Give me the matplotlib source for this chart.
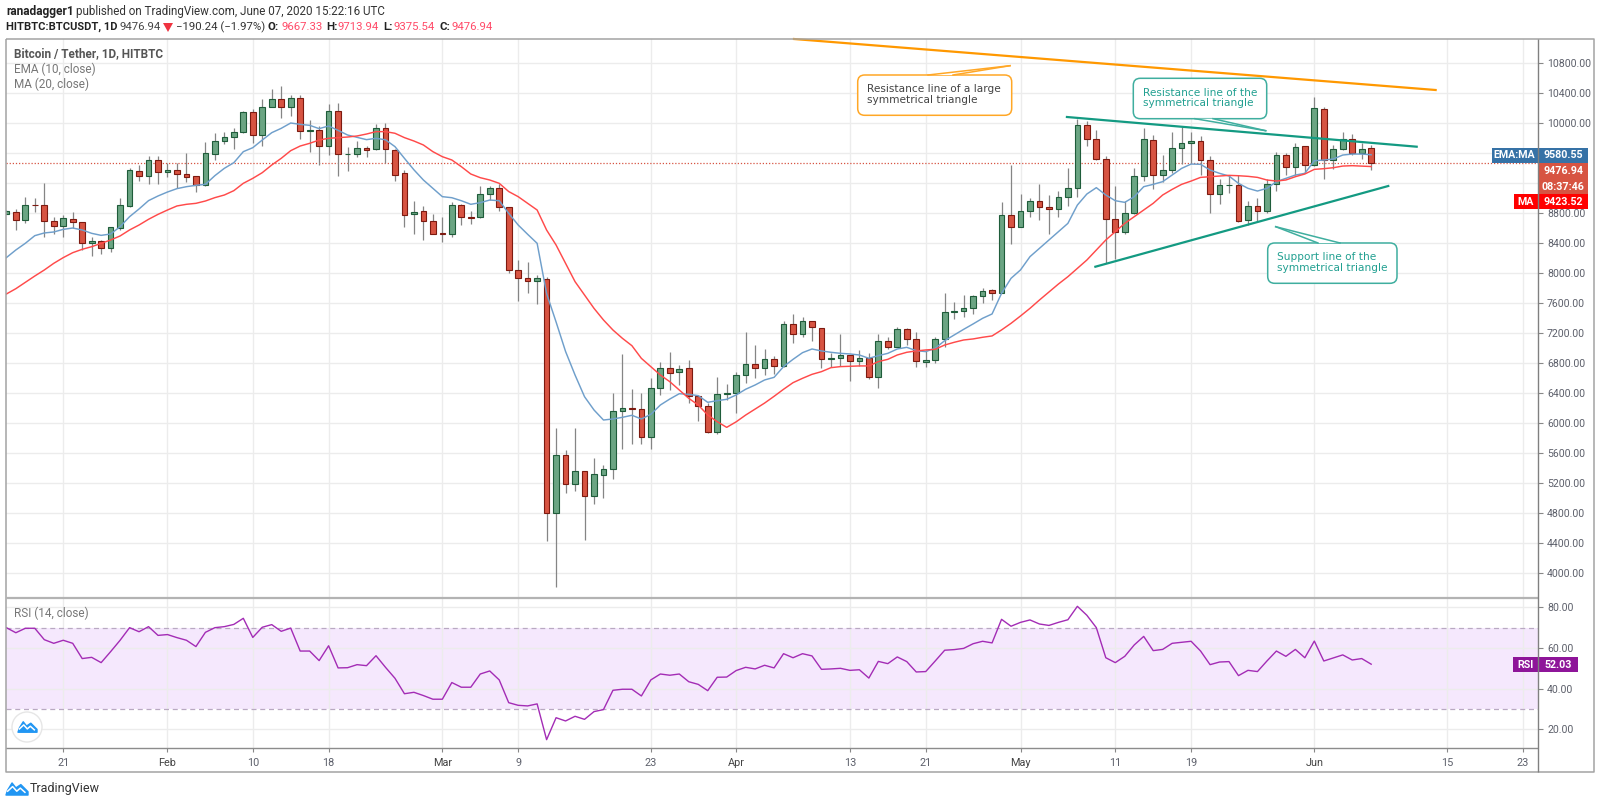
import matplotlib
matplotlib.use("Agg")
import matplotlib.pyplot as plt
from matplotlib.patches import FancyBboxPatch, Polygon, Circle, Rectangle

W, H = 1600, 805
days = list(range(-6, 139))
opens = [8795,8818,8715,8911,8911,8698,8635,8729,8684,8409,
8435,8338,8609,8902,9364,9302,9506,9351,9373,9324,
9293,9178,9591,9769,9813,9884,10151,9840,10222,10320,
10222,10342,9902,9911,9697,10160,9586,9586,9671,9653,
9933,9644,9337,8791,8826,8693,8533,8528,8906,8755,
8746,9053,9133,8880,8040,7933,7893,7929,4800,5578,
5191,5364,5036,5307,5391,6169,6200,6186,5822,6466,
6733,6680,6733,6364,6235,5880,6395,6400,6640,6787,
6738,6854,6765,7320,7191,7360,7276,6858,6867,6907,
6836,6867,6618,7093,7022,7253,7120,6822,6849,7120,
7480,7502,7538,7693,7773,7742,8778,8613,8826,8968,
8888,8862,9013,9142,9973,9786,9528,8719,8546,8799,
9302,9777,9310,9373,9670,9733,9764,9506,9061,9173,
9173,8715,8897,8835,9195,9577,9422,9693,9444,10186,
9515,9662,9786,9608,9667.33]
closes = [8831,8715,8911,8906,8702,8631,8733,8680,8409,8431,
8338,8613,8911,9377,9302,9506,9346,9373,9324,9289,
9178,9600,9769,9813,9889,10151,9840,10222,10320,10222,
10342,9902,9911,9697,10160,9591,9591,9671,9649,9933,
9653,9311,8777,8813,8693,8528,8528,8906,8755,8742,
9053,9133,8888,8040,7933,7893,7933,4800,5578,5191,
5364,5036,5320,5387,6164,6200,6186,5822,6466,6733,
6666,6724,6364,6235,5880,6391,6400,6640,6787,6738,
6854,6760,7320,7191,7360,7285,6858,6867,6907,6836,
6867,6618,7093,7022,7253,7120,6836,6845,7120,7480,
7502,7538,7693,7760,7742,8778,8622,8827,8968,8888,
8862,9017,9137,9973,9786,9524,8719,8546,8799,9302,
9790,9315,9373,9670,9733,9768,9506,9061,9173,9177,
8702,8897,8835,9195,9577,9422,9684,9444,10199,9515,
9662,9786,9608,9662,9476.94]
highs = [8840,8853,9017,9000,9200,8746,8778,8813,8689,8489,
8444,8613,9000,9400,9444,9564,9564,9466,9466,9609,
9302,9755,9866,9889,9933,10164,10186,10320,10453,10497,
10377,10377,10044,9964,10257,10275,9689,9764,9702,9986,
10000,9653,9377,8968,8897,8791,8755,8955,8924,8835,
9164,9164,9191,8880,8177,8151,7977,7955,5942,5644,
5942,5364,5533,5440,6400,6924,6453,6400,6600,6822,
6955,6778,6844,6378,6266,6613,6524,6680,7218,7040,
6991,6893,7365,7458,7422,7360,7276,6942,7187,6907,
6978,6933,7191,7147,7289,7267,7213,6978,7156,7742,
7613,7707,7707,7804,7796,8951,9444,9058,9008,9190,
9044,9102,9399,10053,10030,9910,9564,9164,8968,9399,
9933,9839,9581,9884,9946,9888,9830,9564,9261,9310,
9310,8968,9008,9261,9617,9608,9733,9693,10355,10213,
9710,9879,9853,9741,9713.94]
lows = [8790,8578,8666,8822,8489,8524,8489,8600,8311,8235,
8258,8280,8578,8889,9235,9191,9191,9289,9133,9222,
9080,9164,9511,9724,9653,9875,9733,9697,10213,10071,
10097,9786,9622,9444,9577,9297,9369,9546,9546,9644,
9466,9235,8622,8524,8440,8524,8413,8488,8640,8653,
8742,8977,8835,7999,7626,7733,7595,4436,3822,5066,
5102,4444,4924,5009,5258,5662,5720,5720,5662,6378,
6444,6511,6275,6035,5866,5853,6311,6142,6542,6609,
6640,6658,6756,7067,7156,7102,6733,6756,6769,6569,
6769,6596,6471,6987,7013,7044,6747,6756,6800,7022,
7391,7422,7458,7600,7644,7733,8391,8613,8746,8711,
8524,8746,8897,9022,9702,9510,8133,8186,8524,8790,
9235,9128,9222,9333,9457,9466,9310,8808,8924,9075,
8679,8644,8688,8808,9102,9310,9310,9333,9430,9262,
9386,9644,9577,9524,9375.54]
ema10 = [8209,8311,8400,8502,8538,8551,8586,8604,8578,8533,
8506,8524,8622,8755,8858,8969,9031,9084,9129,9155,
9173,9186,9302,9400,9475,9622,9675,9777,9875,9933,
10004,9986,9973,9929,9964,9906,9844,9813,9782,9800,
9780,9689,9533,9380,9244,9133,9022,9008,8968,8920,
8942,8977,8968,8800,8644,8520,8400,7730,7351,6958,
6644,6355,6178,6044,6058,6080,6107,6058,6120,6244,
6324,6395,6386,6369,6280,6302,6320,6378,6454,6511,
6578,6613,6756,6853,6942,6991,6965,6947,6933,6925,
6911,6867,6902,6933,6991,7013,6969,6956,7000,7102,
7178,7253,7325,7400,7458,7733,7933,8045,8222,8333,
8444,8555,8666,8910,9057,9142,9044,8968,8946,9021,
9155,9186,9222,9310,9399,9457,9453,9377,9333,9297,
9199,9133,9097,9133,9222,9266,9310,9333,9501,9510,
9524,9577,9590,9590,9580.55]
ma20 = [7724,7795,7880,7964,8044,8133,8209,8275,8320,8355,
8400,8444,8498,8578,8644,8720,8786,8844,8898,8920,
8933,8964,9009,9044,9102,9200,9266,9342,9444,9533,
9635,9697,9733,9777,9800,9809,9817,9831,9857,9889,
9889,9867,9809,9764,9711,9622,9555,9511,9422,9324,
9275,9244,9200,9090,9022,8933,8844,8577,8377,8133,
7889,7711,7533,7378,7244,7133,7035,6866,6755,6644,
6555,6444,6333,6244,6111,6022,5946,6020,6110,6190,
6270,6360,6454,6542,6600,6653,6689,6742,6756,6760,
6765,6765,6823,6853,6911,6947,6965,6978,6987,7044,
7080,7111,7125,7147,7165,7245,7333,7431,7533,7644,
7750,7857,7955,8066,8177,8310,8444,8555,8666,8755,
8844,8933,9044,9119,9186,9230,9279,9288,9297,9306,
9301,9293,9279,9244,9230,9244,9288,9324,9386,9395,
9408,9430,9435,9430,9423.52]
rsi14 = [70,67.5,69.7,69.7,64.1,62.3,63.8,62.3,54.8,55.4,
52.8,58.2,63.8,70,68,70.5,66.2,66.6,65.1,63.8,
60.7,67.7,70,70.5,71.6,74.6,65.2,70.2,71.5,68.2,
69.8,58.5,58.5,53.8,61.1,50.2,50.3,51.8,51.3,56.2,
50.5,45.1,37.5,38.2,36.6,34.8,34.8,43,40.7,40.7,
47.2,48.7,44.3,33.1,31.8,31.5,32.5,14.9,25.7,24.1,
26.4,24.9,28.7,29.7,39.2,39.7,39.7,36.4,44.3,47.2,
46.6,47.2,43.4,42.1,39,45.6,45.7,48.9,50.5,49.7,
51.5,50.2,57.2,55.2,57.2,56.1,49.5,49.7,50,49,
49.3,45.2,53.4,52.3,55.6,53.3,48.2,48.4,53.6,58.9,
59.2,59.8,62.1,63.3,62.5,74.1,70.7,72.6,73.8,71.8,
71.1,72.6,73.9,80.5,76.1,70,55.2,52.8,55.9,61.5,
65.7,58.7,59.3,62.3,62.8,63.3,58.5,51.8,53.1,53.3,
46.4,49,48.4,53.6,58.5,55.9,59.3,55.2,63.4,53.6,
55.1,56.6,54.1,54.8,52.03]

price_ticks = [4000,4400,4800,5200,5600,6000,6400,6800,7200,7600,8000,8400,8800,9200,9600,10000,10400,10800]
hidden_price_labels = [9200, 9600]
rsi_ticks = [20,40,60,80]
tick_days = [0,11,20,28,40,48,62,71,83,91,101,111,119,132,146,154]
tick_labels = ['21','Feb','10','18','Mar','9','23','Apr','13','21','May','11','19','Jun','15','23']

orange_x, orange_y = [77.1,144.8], [11124,10444]
res_x, res_y = [105.9,142.8], [10084,9688]
sup_x, sup_y = [108.9,139.8], [8088,9164]
last_close = 9476.94

UI = 'Roboto'
GREY = '#5d606b'
GRID = '#ececec'
GREEN, GREEN_E = '#6ba583', '#1f5c3a'
RED, RED_E = '#d75442', '#7d1a10'

fig = plt.figure(figsize=(W/100, H/100), dpi=100, facecolor='white')
def box(l, t, r, b):
    return [l/W, 1-b/H, (r-l)/W, (b-t)/H]

L, AX, R = 5.7, 1538, 1594
ax = fig.add_axes(box(L, 39, AX, 597.7))
rx = fig.add_axes(box(L, 599, AX, 748))
xlim = (-6.07, 155.6)
for a in (ax, rx):
    a.set_xlim(*xlim)
    a.set_axisbelow(True)
    a.grid(True, color=GRID, lw=1.0)
    a.yaxis.tick_right()
    a.set_xticks(tick_days)
    for s in a.spines.values():
        s.set_visible(False)
    a.tick_params(axis='y', length=3.5, color='#888888', labelcolor=GREY, labelsize=7.6, pad=3)
ax.set_ylim(3675, 11124)
ax.set_yticks(price_ticks)
ax.set_yticklabels(['' if v in hidden_price_labels else f'{v:.2f}' for v in price_ticks], family=UI)
ax.tick_params(axis='x', length=0, labelbottom=False)
rx.set_ylim(10.8, 84.1)
rx.set_yticks(rsi_ticks)
rx.set_yticklabels([f'{v:.2f}' for v in rsi_ticks], family=UI)
rx.set_xticklabels(tick_labels, family=UI)
rx.tick_params(axis='x', length=3, color='#888888', labelcolor=GREY, labelsize=7.8, pad=4)
for lab, t_ in zip(rx.get_xticklabels(), tick_labels):
    if not t_.isdigit():
        lab.set_color('#444444')

# candles
up = [c >= o for o, c in zip(opens, closes)]
ax.vlines(days, lows, highs, color='#858585', lw=0.9, zorder=2)
ax.bar(days, [abs(c-o) for o, c in zip(opens, closes)], bottom=[min(o, c) for o, c in zip(opens, closes)],
       width=0.6, color=[GREEN if u else RED for u in up],
       edgecolor=[GREEN_E if u else RED_E for u in up], linewidth=0.8, zorder=3)
ax.plot(days, ema10, color='#6f9fcb', lw=1.05, zorder=4)
ax.plot(days, ma20, color='#ff4a4a', lw=1.05, zorder=4)
ax.axhline(last_close, color='#d75442', lw=0.9, ls=(0, (1, 1.5)), zorder=1.5)
ax.plot(orange_x, orange_y, color='#ff9800', lw=1.6, zorder=5, clip_on=False)
ax.plot(res_x, res_y, color='#139a82', lw=1.6, zorder=5)
ax.plot(sup_x, sup_y, color='#139a82', lw=1.6, zorder=5)

# RSI
rx.axhspan(30, 70, color='#f5e8fd', lw=0, zorder=0.2)
rx.axhline(70, color='#b9a9c2', lw=0.9, ls=(0, (4, 3)), zorder=1.5)
rx.axhline(30, color='#b9a9c2', lw=0.9, ls=(0, (4, 3)), zorder=1.5)
rx.plot(days, rsi14, color='#a32cb5', lw=1.0, zorder=3)

# overlay in pixel coordinates for chrome, tags, callouts
ov = fig.add_axes([0, 0, 1, 1], facecolor='none', zorder=10)
ov.set_xlim(0, W); ov.set_ylim(H, 0); ov.axis('off')

def line(xs, ys, c, lw):
    ov.plot(xs, ys, color=c, lw=lw, solid_capstyle='butt', clip_on=False)
line([L, R, R, L, L], [39, 39, 772, 772, 39], '#a3a3a3', 1.1)
line([L, AX], [598.3, 598.3], '#b3b3b3', 1.6)
line([L, AX], [748, 748], '#8c8c8c', 1.0)
line([AX, AX], [39, 772], '#808080', 1.0)

def tag(l, r, t, b, fc, s):
    ov.add_patch(Rectangle((l, t), r-l, b-t, fc=fc, ec='none'))
    ov.text((l+r)/2, (t+b)/2, s, color='white', ha='center', va='center', fontsize=7.7, family=UI, weight='bold')
tag(1491.7, 1537.5, 147.7, 162.7, '#3672a6', 'EMA:MA')
tag(1538.5, 1588, 147.7, 162.7, '#3672a6', '9580.55')
tag(1538.5, 1588, 163.3, 178.6, '#d75442', '9476.94')
tag(1538.5, 1588, 179, 194, '#d75442', '08:37:46')
tag(1514, 1537.5, 194, 209, '#ff0000', 'MA')
tag(1538.5, 1588, 194, 209, '#ff0000', '9423.52')
tag(1513, 1537.5, 657, 672, '#8e1599', 'RSI')
tag(1538.5, 1578, 657, 672, '#8e1599', '52.03')

def t(x, y, s, c='#333333', size=8.0, w='normal', fam=UI):
    return ov.text(x, y, s, color=c, fontsize=size, weight=w, family=fam, ha='left', va='center')

PINK = '#ff4a68'
t(6, 11, 'ranadagger1', '#222222', 8.6, 'bold')
t(76, 11, 'published on TradingView.com, June 07, 2020 15:22:16 UTC', '#333333', 8.4)
t(6, 27, 'HITBTC:BTCUSDT, 1D', '#222222', 8.0, 'bold')
t(120, 27, '9476.94', '#444444', 8.2)
ov.add_patch(Polygon([(163, 23), (173, 23), (168, 32)], fc='#ef3340', ec='none'))
t(176, 27, '\u2212190.24 (\u22121.97%)', '#333333', 8.2)
for x, s, col in [(268, 'O:', '#222222'), (281, '9667.33', PINK), (326, 'H:', '#222222'), (338, '9713.94', PINK),
                  (383, 'L:', '#222222'), (393, '9375.54', PINK), (439, 'C:', '#222222'), (451, '9476.94', PINK)]:
    t(x, 27, s, col, 8.2, 'bold' if s.endswith(':') else 'normal')

t(14, 54, 'Bitcoin / Tether, 1D, HITBTC', '#555555', 8.5, 'bold')
t(14, 69, 'EMA (10, close)', '#777777', 8.5)
t(14, 84, 'MA (20, close)', '#777777', 8.5)
t(13.6, 613, 'RSI (14, close)', '#777777', 8.5)
t(30, 788, 'TradingView', '#333333', 9.0)

def cloud(cx, cy, s, fc='#2196f3'):
    pts = [(-1, .55), (-.85, .1), (-.45, -.55), (-.1, -.1), (.35, -.4), (1, .25), (1, .55)]
    ov.add_patch(Polygon([(cx+a*s, cy+b*s) for a, b in pts], fc=fc, ec=fc, lw=1, joinstyle='round'))
    ov.plot([cx+a*s for a in (-.85, -.4, -.02, .3, .72)], [cy+b*s for b in (.2, -.22, .2, -.08, .3)],
            color='white', lw=1.1)
ov.add_patch(Circle((27, 727), 15, fc='white', ec='#e6e6e6', lw=1))
cloud(27.5, 727, 9.5)
cloud(17, 789, 11)

def callout(l, t0, r, b, ec, tc, lines, tail, tx, ys):
    ov.add_patch(FancyBboxPatch((l+7, t0+7), r-l-14, b-t0-14, boxstyle='round,pad=7,rounding_size=7',
                                fc='white', ec=ec, lw=1.1))
    ov.add_patch(Polygon(tail, fc='white', ec='none'))
    for p in (tail[0], tail[1]):
        ov.plot([p[0], tail[2][0]], [p[1], tail[2][1]], color=ec, lw=1.1)
    for s, y in zip(lines, ys):
        t(tx, y, s, tc, 7.6, fam='DejaVu Sans')

callout(857.7, 75, 1011.7, 115.3, '#ffa726', '#444444', ['Resistance line of a large', 'symmetrical triangle'],
        [(928, 75), (953, 75), (1010, 65.7)], 867, [89, 100])
callout(1133.3, 78.3, 1266.7, 118.7, '#3fae9f', '#22a091', ['Resistance line of the', 'symmetrical triangle'],
        [(1195, 118.7), (1213, 118.7), (1265.7, 130.7)], 1142.7, [92.7, 103.3])
callout(1267.7, 243, 1397, 283.3, '#3fae9f', '#22a091', ['Support line of the', 'symmetrical triangle'],
        [(1318, 243), (1340, 243), (1275.7, 226.7)], 1277.3, [257.3, 268])

fig.savefig('out.png', dpi=100, facecolor='white')
